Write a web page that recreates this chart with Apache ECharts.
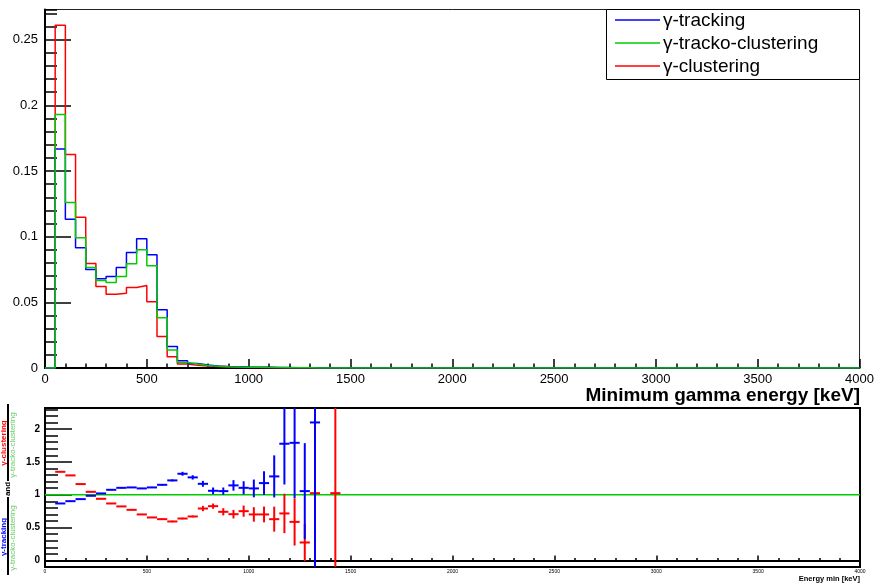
<!DOCTYPE html>
<html>
<head>
<meta charset="utf-8">
<script src="https://cdn.jsdelivr.net/npm/echarts@6/dist/echarts.min.js"></script>
<style>
  html, body { margin: 0; padding: 0; background: #fff; }
  #main { width: 877px; height: 585px; }
</style>
</head>
<body>
<div id="main"></div>
<script>
// bins are 50 keV wide, low edges
const binWidth = 50;
const binLow = [0, 50, 100, 150, 200, 250, 300, 350, 400, 450, 500, 550, 600, 650, 700,
  750, 800, 850, 900, 950, 1000, 1050, 1100, 1150, 1200, 1250, 1300, 1350, 1400];

// normalised spectra (top pad)
const hTracking = [0, 0.1667, 0.1132, 0.0916, 0.0750, 0.0680, 0.0697, 0.0766, 0.0880, 0.0985,
  0.0863, 0.0443, 0.0163, 0.0056, 0.0035, 0.0022, 0.0015, 0.0011, 0.0009, 0.0007,
  0.0006, 0.0005, 0.0004, 0.0003, 0.0002, 0.0001, 0.0001, 0, 0];
const hTrackoClustering = [0, 0.1930, 0.1260, 0.0992, 0.0766, 0.0667, 0.0651, 0.0697, 0.0794, 0.0900,
  0.0779, 0.0382, 0.0137, 0.0042, 0.0030, 0.0019, 0.0014, 0.0010, 0.0008, 0.0006,
  0.0005, 0.0004, 0.0003, 0.0002, 0.0001, 0.0001, 0.00005, 0, 0];
const hClustering = [0, 0.2610, 0.1626, 0.1148, 0.0796, 0.0620, 0.0562, 0.0570, 0.0613, 0.0628,
  0.0504, 0.0239, 0.0086, 0.0030, 0.0020, 0.0015, 0.0011, 0.0007, 0.0005, 0.0004,
  0.0003, 0.0003, 0.0002, 0.0001, 0.0001, 0.00003, 0.00005, 0, 0.00005];

// ratios to tracko-clustering (bottom pad), bin centres 75 .. 1425
const ratioCenter = [75, 125, 175, 225, 275, 325, 375, 425, 475, 525, 575, 625, 675, 725,
  775, 825, 875, 925, 975, 1025, 1075, 1125, 1175, 1225, 1275, 1325, 1375, 1425];
const ratioTracking = [0.867, 0.902, 0.933, 0.984, 1.02, 1.075, 1.105, 1.111, 1.096, 1.111,
  1.151, 1.218, 1.319, 1.264, 1.166, 1.06, 1.055, 1.142, 1.105, 1.096,
  1.177, 1.279, 1.776, 1.79, 1.055, 2.10, null, null];
const errTracking = [0.004, 0.004, 0.005, 0.005, 0.006, 0.006, 0.007, 0.008, 0.008, 0.009,
  0.011, 0.015, 0.03, 0.033, 0.045, 0.05, 0.055, 0.08, 0.1, 0.135,
  0.18, 0.32, 0.62, 0.84, 0.73, 5, null, null];
const ratioClustering = [1.349, 1.294, 1.162, 1.044, 0.938, 0.867, 0.822, 0.770, 0.700, 0.654,
  0.628, 0.593, 0.638, 0.669, 0.79, 0.826, 0.74, 0.704, 0.75, 0.70,
  0.70, 0.628, 0.715, 0.587, 0.273, 1.024, null, 1.024];
const errClustering = [0.006, 0.006, 0.006, 0.006, 0.006, 0.006, 0.007, 0.007, 0.008, 0.008,
  0.009, 0.012, 0.012, 0.014, 0.04, 0.04, 0.055, 0.065, 0.085, 0.11,
  0.12, 0.19, 0.30, 0.36, 0.285, 5, null, 5];

const unityX = [0, 4000];
const unityY = [1, 1];

const legendNames = ['γ-tracking', 'γ-tracko-clustering', 'γ-clustering'];

const BLUE = '#0000ff', GREEN = '#00cc00', RED = '#ff0000';
const legendColors = [BLUE, GREEN, RED];
const FONT = '"Liberation Sans", Arial, sans-serif';

var myChart = echarts.init(document.getElementById('main'));

function histData(h) {
  let d = binLow.map((x, i) => [x, h[i]]);
  d.push([binLow[binLow.length - 1] + binWidth, 0]);
  d.push([4000, 0]);
  return d;
}

function ratioData(r, e) {
  let d = [];
  ratioCenter.forEach((x, i) => { if (r[i] != null) d.push([x, r[i], e[i]]); });
  return d;
}

// one point = horizontal bar over the bin + vertical error bar
function errorBar(params, api) {
  const cs = params.coordSys;
  const x = api.value(0), v = api.value(1), e = api.value(2);
  const l = api.coord([x - binWidth / 2, v]);
  const r = api.coord([x + binWidth / 2, v]);
  const c = api.coord([x, v]);
  let top = api.coord([x, v + e])[1], bot = api.coord([x, v - e])[1];
  top = Math.max(top, cs.y);
  bot = Math.min(bot, cs.y + cs.height);
  const style = { stroke: api.visual('color'), lineWidth: 2 };
  const kids = [];
  if (c[1] >= cs.y && c[1] <= cs.y + cs.height) {
    kids.push({ type: 'line', shape: { x1: l[0], y1: l[1], x2: r[0], y2: r[1] }, style: style });
  }
  if (bot > top) {
    kids.push({ type: 'line', shape: { x1: c[0], y1: top, x2: c[0], y2: bot }, style: style });
  }
  return { type: 'group', children: kids };
}

const tickStyle = { color: '#000', width: 1.5 };

function plainNum(v) { return String(v); }

function majorLabel(v) {
  const k = v / 0.5;
  return Math.abs(k - Math.round(k)) < 1e-6 ? String(+v.toFixed(1)) : '';
}

// hand drawn ROOT-like legend box
let legendGraphics = [
  { type: 'rect', z: 5, shape: { x: 606.5, y: 9.5, width: 253, height: 70 },
    style: { fill: '#fff', stroke: '#000', lineWidth: 1 } }
];
legendNames.forEach((name, i) => {
  const y = 20 + i * 23;
  legendGraphics.push({ type: 'line', z: 6, shape: { x1: 615, y1: y, x2: 660, y2: y },
    style: { stroke: legendColors[i], lineWidth: 1.5 } });
  legendGraphics.push({ type: 'text', z: 6, x: 663, y: y + 1,
    style: { text: name, align: 'left', verticalAlign: 'middle', fontSize: 19, fontFamily: FONT, fill: '#000' } });
});

myChart.setOption({
  animation: false,
  backgroundColor: '#fff',
  textStyle: { fontFamily: FONT },
  grid: [
    { left: 45, top: 9.5, width: 815, height: 358.5, show: true, borderColor: '#222', borderWidth: 1 },
    { left: 45, top: 408, width: 815, height: 159, show: true, borderColor: '#000', borderWidth: 2 }
  ],
  xAxis: [
    {
      gridIndex: 0, type: 'value', min: 0, max: 4000, interval: 500,
      axisLine: { lineStyle: { color: '#000', width: 2 } },
      axisTick: { inside: true, length: 9, lineStyle: tickStyle },
      minorTick: { show: true, splitNumber: 5, length: 4.5, lineStyle: tickStyle },
      axisLabel: { fontSize: 13, color: '#000', margin: 5, fontFamily: FONT, formatter: plainNum },
      splitLine: { show: false }
    },
    {
      gridIndex: 1, type: 'value', min: 0, max: 4000, interval: 500,
      axisLine: { lineStyle: { color: '#000', width: 2 } },
      axisTick: { inside: true, length: 5, lineStyle: tickStyle },
      minorTick: { show: true, splitNumber: 5, length: 2.5, lineStyle: tickStyle },
      axisLabel: { fontSize: 5, color: '#000', margin: 2, fontFamily: FONT, formatter: plainNum },
      splitLine: { show: false }
    }
  ],
  yAxis: [
    {
      gridIndex: 0, type: 'value', position: 'left', min: 0, max: 0.273, interval: 0.05,
      axisLine: { show: true, lineStyle: { color: '#000', width: 2 } },
      axisTick: { inside: true, length: 26, lineStyle: tickStyle },
      axisLabel: { fontSize: 13, color: '#000', margin: 7, showMaxLabel: false, fontFamily: FONT },
      splitLine: { show: false }
    },
    {
      gridIndex: 0, type: 'value', position: 'left', min: 0, max: 0.273, interval: 0.01,
      axisLine: { show: false },
      axisTick: { inside: true, length: 12, lineStyle: tickStyle },
      axisLabel: { show: false },
      splitLine: { show: false }
    },
    {
      gridIndex: 1, type: 'value', position: 'left', min: -0.1, max: 2.32, splitNumber: 5,
      axisLine: { show: true, lineStyle: { color: '#000', width: 2 } },
      axisTick: { inside: true, length: 27, lineStyle: tickStyle },
      axisLabel: {
        fontSize: 10, fontWeight: 'bold', color: '#000', margin: 5,
        showMinLabel: false, showMaxLabel: false, formatter: majorLabel, fontFamily: FONT
      },
      splitLine: { show: false }
    },
    {
      gridIndex: 1, type: 'value', position: 'left', min: -0.1, max: 2.32, interval: 0.1,
      axisLine: { show: false },
      axisTick: { inside: true, length: 13, lineStyle: tickStyle },
      axisLabel: { show: false },
      splitLine: { show: false }
    }
  ],
  series: [
    {
      name: 'γ-clustering', type: 'line', step: 'end', symbol: 'none',
      xAxisIndex: 0, yAxisIndex: 0, color: RED,
      lineStyle: { width: 1.5, color: RED }, data: histData(hClustering), z: 2
    },
    {
      name: 'γ-tracking', type: 'line', step: 'end', symbol: 'none',
      xAxisIndex: 0, yAxisIndex: 0, color: BLUE,
      lineStyle: { width: 1.5, color: BLUE }, data: histData(hTracking), z: 3
    },
    {
      name: 'γ-tracko-clustering', type: 'line', step: 'end', symbol: 'none',
      xAxisIndex: 0, yAxisIndex: 0, color: GREEN,
      lineStyle: { width: 1.5, color: GREEN }, data: histData(hTrackoClustering), z: 4
    },
    {
      name: 'unity', type: 'line', symbol: 'none', xAxisIndex: 1, yAxisIndex: 2,
      lineStyle: { width: 1.5, color: GREEN }, color: GREEN,
      data: unityX.map((x, i) => [x, unityY[i]]), z: 2
    },
    {
      name: 'ratio clustering', type: 'custom', xAxisIndex: 1, yAxisIndex: 2,
      renderItem: errorBar, encode: { x: 0, y: 1 }, itemStyle: { color: RED },
      data: ratioData(ratioClustering, errClustering), z: 3
    },
    {
      name: 'ratio tracking', type: 'custom', xAxisIndex: 1, yAxisIndex: 2,
      renderItem: errorBar, encode: { x: 0, y: 1 }, itemStyle: { color: BLUE, opacity: 0.8 },
      data: ratioData(ratioTracking, errTracking), z: 4
    }
  ],
  graphic: legendGraphics.concat([
    { type: 'text', x: 860, y: 396, style: { text: 'Minimum gamma energy [keV]', align: 'right', verticalAlign: 'middle',
      fontSize: 19, fontWeight: 'bold', fontFamily: FONT, fill: '#000' } },
    { type: 'text', x: 860, y: 579, style: { text: 'Energy min [keV]', align: 'right', verticalAlign: 'middle',
      fontSize: 7.5, fontWeight: 'bold', fontFamily: FONT, fill: '#000' } },
    // ratio y title
    { type: 'text', x: 4, y: 443, rotation: Math.PI / 2, style: { text: 'γ-clustering', align: 'center', verticalAlign: 'middle',
      fontSize: 8, fontWeight: 'bold', fontFamily: FONT, fill: RED } },
    { type: 'line', shape: { x1: 8, y1: 404, x2: 8, y2: 481 }, style: { stroke: '#000', lineWidth: 2 } },
    { type: 'text', x: 13, y: 445, rotation: Math.PI / 2, style: { text: 'γ-tracko-clustering', align: 'center', verticalAlign: 'middle',
      fontSize: 8, fontFamily: FONT, fill: '#66cc66' } },
    { type: 'text', x: 7.5, y: 489, rotation: Math.PI / 2, style: { text: 'and', align: 'center', verticalAlign: 'middle',
      fontSize: 8, fontWeight: 'bold', fontFamily: FONT, fill: '#000' } },
    { type: 'text', x: 4, y: 537, rotation: Math.PI / 2, style: { text: 'γ-tracking', align: 'center', verticalAlign: 'middle',
      fontSize: 8, fontWeight: 'bold', fontFamily: FONT, fill: BLUE } },
    { type: 'line', shape: { x1: 8, y1: 497, x2: 8, y2: 575 }, style: { stroke: '#000', lineWidth: 2 } },
    { type: 'text', x: 13, y: 538, rotation: Math.PI / 2, style: { text: 'γ-tracko-clustering', align: 'center', verticalAlign: 'middle',
      fontSize: 8, fontFamily: FONT, fill: '#66cc66' } }
  ])
});
</script>
</body>
</html>
